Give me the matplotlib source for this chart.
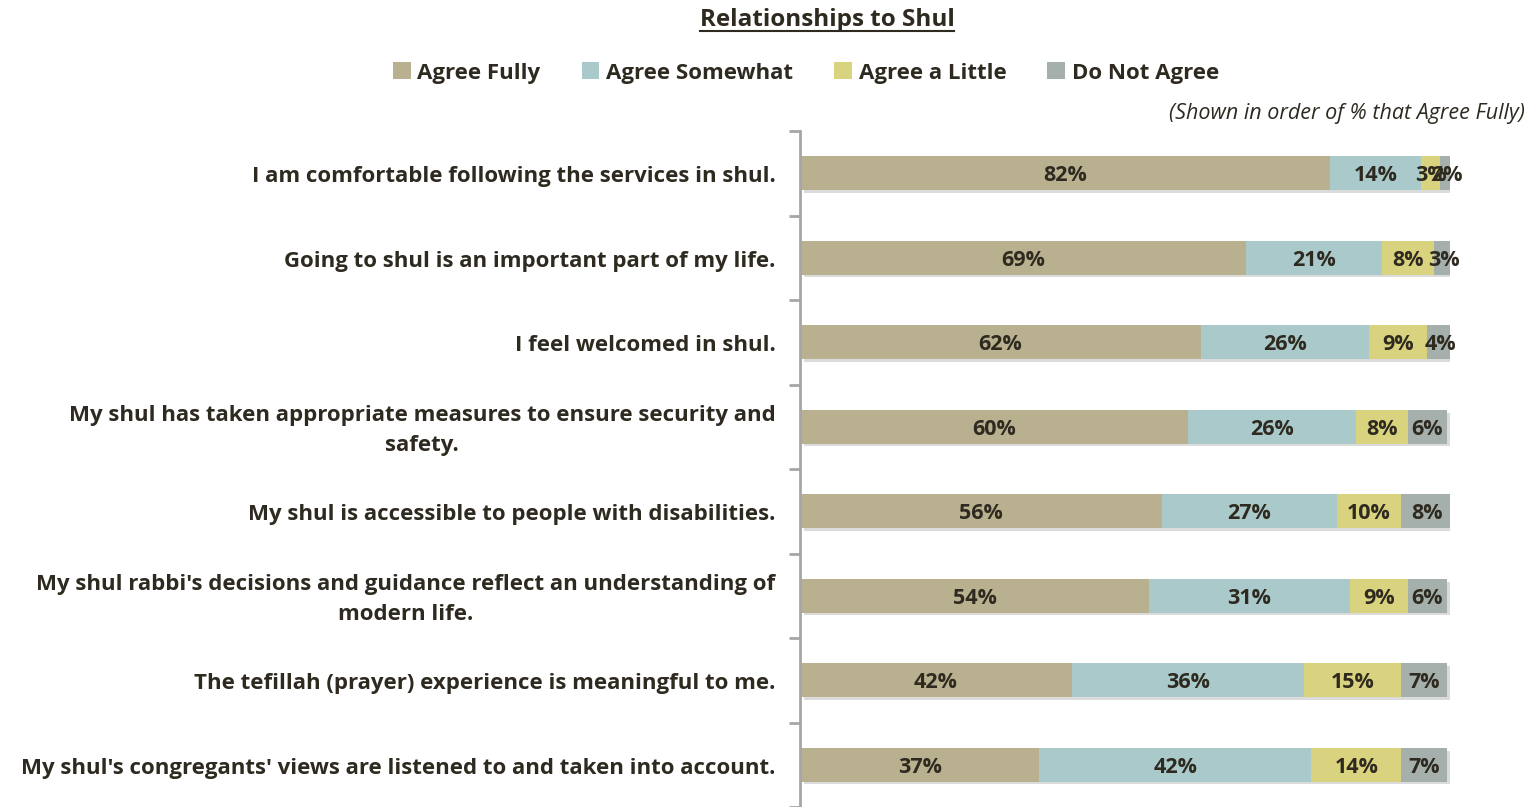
import matplotlib
matplotlib.use('Agg')
from matplotlib import pyplot as plt
from matplotlib import patheffects as pe
from matplotlib.lines import Line2D

statements = [
    'I am comfortable following the services in shul.',
    'Going to shul is an important part of my life.',
    'I feel welcomed in shul.',
    'My shul has taken appropriate measures to ensure security and\nsafety.',
    'My shul is accessible to people with disabilities.',
    "My shul rabbi's decisions and guidance reflect an understanding of\nmodern life.",
    'The tefillah (prayer) experience is meaningful to me.',
    "My shul's congregants' views are listened to and taken into account.",
]
agree_fully = [82, 69, 62, 60, 56, 54, 42, 37]
agree_somewhat = [14, 21, 26, 26, 27, 31, 36, 42]
agree_little = [3, 8, 9, 8, 10, 9, 15, 14]
do_not_agree = [2, 3, 4, 6, 8, 6, 7, 7]

series_names = ['Agree Fully', 'Agree Somewhat', 'Agree a Little', 'Do Not Agree']
colors = ['#B8B08E', '#A9C9CB', '#D9D27E', '#A5B0AC']
TEXT = '#2E2A20'

plt.rcParams['font.family'] = ['Open Sans', 'DejaVu Sans']

fig = plt.figure(figsize=(15.3, 8.07), dpi=100)
ax = fig.add_axes([800 / 1530, 0.0, 650 / 1530, 1 - 131 / 807])

n = len(statements)
ypos = list(range(n))
left = [0] * n
all_series = [agree_fully, agree_somewhat, agree_little, do_not_agree]
for vals, name, col in zip(all_series, series_names, colors):
    bars = ax.barh(ypos, vals, left=left, height=0.4, color=col, label=name)
    for b, v, l in zip(bars, vals, left):
        ax.text(l + v / 2, b.get_y() + b.get_height() / 2 + 0.03, f'{v}%', ha='center', va='center',
                fontsize=15.5, fontweight='bold', color=TEXT)
    left = [a + b for a, b in zip(left, vals)]

# soft drop shadow behind whole bar
for i, tot in enumerate(left):
    ax.barh(i, tot, height=0.4, color='#B0B0B0', zorder=0.5,
            path_effects=[pe.SimplePatchShadow(offset=(3, -2), shadow_rgbFace='#999999', alpha=0.35)])

ax.set_xlim(0, 100.5)
ax.set_ylim(n - 0.5, -0.5)
ax.set_yticks([i - 0.5 for i in range(n + 1)])
ax.set_yticklabels([])
ax.tick_params(axis='y', length=8, width=2, color='#A6A6A6', direction='out')
ax.set_xticks([])
for s in ['top', 'right', 'bottom']:
    ax.spines[s].set_visible(False)
ax.spines['left'].set_color('#A6A6A6')
ax.spines['left'].set_linewidth(2)

for i, s in enumerate(statements):
    ax.text(-0.038, i + 0.04, s, transform=ax.get_yaxis_transform(), ha='right', va='center',
            multialignment='center', fontsize=16, fontweight='bold', color=TEXT, linespacing=1.55)

# title with underline
title = fig.text(827 / 1530, 1 - 20 / 807, 'Relationships to Shul', ha='center', va='center',
                 fontsize=17.5, fontweight='bold', color=TEXT)
fig.canvas.draw()
bb = title.get_window_extent().transformed(fig.transFigure.inverted())
fig.add_artist(Line2D([bb.x0, bb.x1], [bb.y0 + 0.001, bb.y0 + 0.001], color=TEXT, lw=1.5))

handles, labels = ax.get_legend_handles_labels()
fig.legend(handles, labels, loc='center', bbox_to_anchor=(806 / 1530, 1 - 73 / 807), ncol=4,
           frameon=False, handlelength=0.8, handleheight=0.8, handletextpad=0.3, columnspacing=1.85,
           prop={'size': 16, 'weight': 'bold'}, labelcolor=TEXT)

fig.text(1525 / 1530, 1 - 113 / 807, '(Shown in order of % that Agree Fully)', ha='right', va='center',
         fontsize=15.5, fontstyle='italic', color=TEXT)

fig.savefig('out.png', dpi=100, facecolor='white')
